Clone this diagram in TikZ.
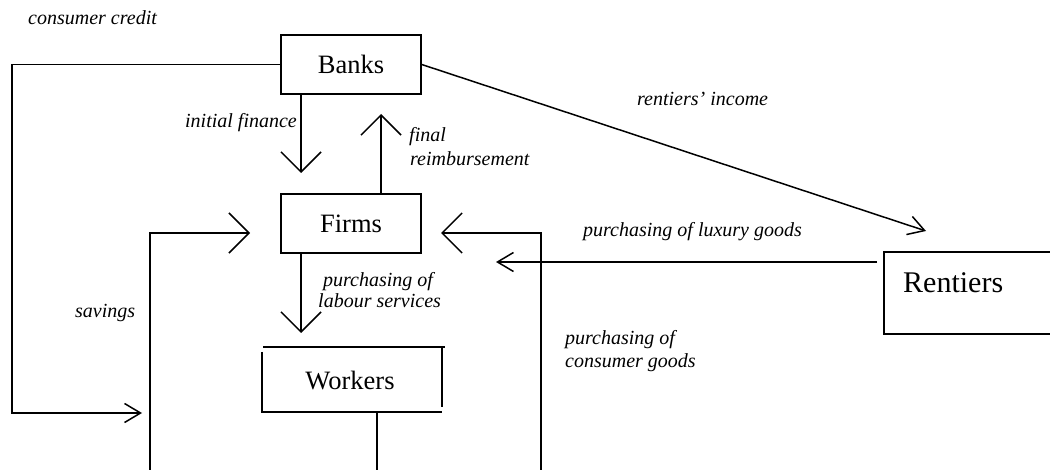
\documentclass[tikz,border=0pt]{standalone}
\usepackage{fontspec}
\setmainfont{Liberation Serif}
\usetikzlibrary{arrows.meta}
\tikzset{
  flow/.style={line width=1.5pt},
  bigtip/.style={-{Straight Barb[length=20pt,width=40pt]}},
  smalltip/.style={-{Straight Barb[length=16pt,width=19pt]}},
  agent/.style={draw, line width=1.5pt, minimum width=140pt, minimum height=59pt,
    inner sep=0pt, font=\fontsize{26.5}{30}\selectfont},
  agenttext/.style={inner sep=0pt, font=\fontsize{26.5}{30}\selectfont},
  lbl/.style={inner sep=0pt, anchor=base west, font=\fontsize{20}{24}\selectfont\itshape},
}
\begin{document}
\begin{tikzpicture}[x=1pt,y=-1pt]
\useasboundingbox (0,0) rectangle (1050,470);

% sectors
\node[agent] (banks) at (351,64.5) {Banks};
\node[agent] (firms) at (351,223.5) {Firms};
\node[agenttext] (workers) at (350,381) {Workers};
\node[inner sep=0pt, anchor=base west, font=\fontsize{30}{34}\selectfont] (rentiers) at (903,293) {Rentiers};

% hand-drawn frame of the workers box
\coordinate (wtl) at (263,347);
\coordinate (wtr) at (445,347);
\coordinate (wbl) at (262,412);
\coordinate (wbr) at (442,412);
\draw[flow] (wtl) -- (wtr);
\draw[flow] ([yshift=-5pt]wtl -| wbl) -- (wbl) -- (wbr);
\draw[flow] (wtl -| wbr) -- ([yshift=5pt]wbr);

% rentiers frame, open to the right
\coordinate (rtl) at (884,252);
\coordinate (rbl) at (884,334);
\draw[flow] (1050,252) -- (rtl) -- (rbl) -- (1050,334);

% free ends of the flows
\coordinate (ccEnd) at (142,413);
\coordinate (svStart) at (150,470);
\coordinate (svEnd) at (250,233);
\coordinate (ifEnd) at (301,173);
\coordinate (frEnd) at (381,114);
\coordinate (lbEnd) at (301,333);
\coordinate (wkStart) at (377,412);
\coordinate (wkEnd) at (377,470);
\coordinate (cgStart) at (541,470);
\coordinate (cgEnd) at (441,233);
\coordinate (lxStart) at (877,262);
\coordinate (lxEnd) at (496,262);
\coordinate (riEnd) at (926,231);

% flows
\draw[flow, smalltip] (banks.west) -| ([xshift=-130pt]ccEnd) -- (ccEnd);
\draw[flow, bigtip] (svStart) |- (svEnd);
\draw[flow, bigtip] (banks.south -| ifEnd) -- (ifEnd);
\draw[flow, bigtip] (firms.north -| frEnd) -- (frEnd);
\draw[flow, bigtip] (firms.south -| lbEnd) -- (lbEnd);
\draw[flow] (wkStart) -- (wkEnd);
\draw[flow, bigtip] (cgStart) |- (cgEnd);
\draw[flow, smalltip] (lxStart) -- (lxEnd);
\draw[flow, smalltip] (banks.east) -- (riEnd);

% labels
\node[lbl] (lcc) at (28,25) {consumer credit};
\node[lbl, anchor=base east] (lif) at (297,128) {initial finance};
\node[lbl] (lfr1) at (409,142) {final};
\node[lbl] (lfr2) at (410,166) {reimbursement};
\node[lbl] (lri) at (637,106) {rentiers’ income};
\node[lbl] (llx) at (583,237) {purchasing of luxury goods};
\node[lbl] (llb1) at (323,287) {purchasing of};
\node[lbl] (llb2) at (318,308) {labour services};
\node[lbl] (lsv) at (75,318) {savings};
\node[lbl] (lcg1) at (565,345) {purchasing of};
\node[lbl] (lcg2) at (565,367) {consumer goods};
\end{tikzpicture}
\end{document}
